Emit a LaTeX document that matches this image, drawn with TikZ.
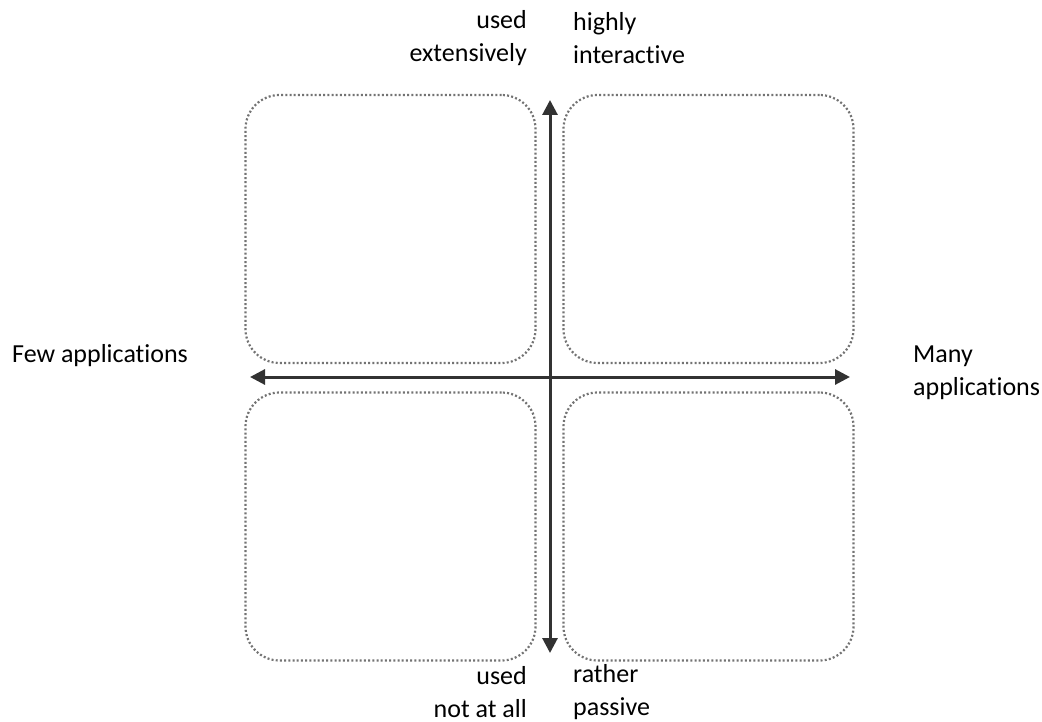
\documentclass[tikz,border=0pt]{standalone}
\usepackage{fontspec}
\setmainfont{Carlito}[Ligatures=NoCommon]
\usetikzlibrary{arrows.meta}
\definecolor{axisgray}{RGB}{50,50,50}
\definecolor{dotgray}{RGB}{115,115,115}
\begin{document}
\begin{tikzpicture}[x=1pt,y=-1pt,
  quad/.style={draw=dotgray, line width=2.2pt, dash pattern=on 2pt off 2.2pt,
    rounded corners=34pt, minimum width=290pt, minimum height=268pt, inner sep=0pt},
  axisline/.style={draw=axisgray, line width=3pt,
    {Triangle[length=15pt,width=15pt]}-{Triangle[length=15pt,width=15pt]}},
  lbl/.style={font=\fontsize{26}{32.5}\selectfont, text=black, inner sep=0pt}]
\useasboundingbox (0,0) rectangle (1042,722);
% four quadrant boxes
\node[quad] (tl) at (390.5,229) {};
\node[quad] (tr) at (708.5,229) {};
\node[quad] (bl) at (390.5,526.5) {};
\node[quad] (br) at (708.5,526.5) {};
% axis end points
\coordinate (ytop) at (550,100);
\coordinate (ybot) at (550,653);
\coordinate (xleft) at (250,377);
\coordinate (xright) at (850,377);
\draw[axisline] (ybot) -- (ytop);
\draw[axisline] (xleft) -- (xright);
% axis labels
\node[lbl, align=right, anchor=east] (ul) at (527,38) {used\\extensively};
\node[lbl, align=left, anchor=west] (ur) at (573,38) {highly\\interactive};
\node[lbl, align=right, anchor=east] (ll) at (527,692) {used\\not at all};
\node[lbl, align=left, anchor=west] (lr) at (573,692) {rather\\passive};
\node[lbl, anchor=west] (lf) at (12,356) {Few applications};
\node[lbl, align=left, anchor=west] (rm) at (913,373) {Many\\applications};
\end{tikzpicture}
\end{document}
